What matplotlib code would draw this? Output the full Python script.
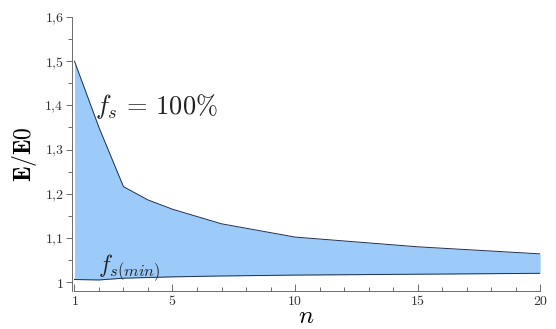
import matplotlib.pyplot as plt
from matplotlib.ticker import MultipleLocator, FuncFormatter

plt.rcParams['mathtext.fontset'] = 'cm'
plt.rcParams['font.family'] = 'serif'
plt.rcParams['font.serif'] = ['DejaVu Serif']

# upper curve: f_s = 100%
n_upper = [1, 2, 3, 4, 5, 7, 10, 15, 20]
e_upper = [1.5, 1.35, 1.216, 1.186, 1.165, 1.132, 1.102, 1.08, 1.064]
# lower curve: f_s(min), read at the same n values
e_lower = [1.006, 1.005, 1.009, 1.0105, 1.012, 1.014, 1.016, 1.018, 1.02]

fig = plt.figure(figsize=(5.56, 3.29), dpi=100)
ax = fig.add_axes([0.1295, 0.1155, 0.842, 0.833])

ax.fill_between(n_upper, e_upper, e_lower, color='#9ccbf9', lw=0)
ax.plot(n_upper, e_upper, color='#1f2f4f', lw=0.7)
ax.plot(n_upper, e_lower, color='#1f2f4f', lw=0.7)

ax.set_xlim(0.9, 20)
ax.set_ylim(0.98, 1.6)
for s in ['top', 'right']:
    ax.spines[s].set_visible(False)
ax.spines['left'].set_bounds(0.98, 1.6)
ax.spines['bottom'].set_bounds(1, 20)
for s in ['left', 'bottom']:
    ax.spines[s].set_linewidth(0.6)
    ax.spines[s].set_color('#555555')

ax.set_xticks([1, 5, 10, 15, 20])
ax.xaxis.set_minor_locator(MultipleLocator(1))
ax.yaxis.set_major_locator(MultipleLocator(0.1))
ax.yaxis.set_minor_locator(MultipleLocator(0.05))


def yfmt(v, pos):
    s = '%.1f' % v
    if s == '1.0':
        return '$1$'
    return '$' + s.replace('.', '{,}') + '$'


ax.yaxis.set_major_formatter(FuncFormatter(yfmt))
ax.xaxis.set_major_formatter(FuncFormatter(lambda v, p: '$%d$' % v))
ax.tick_params(axis='x', which='both', direction='in', colors='#555555', labelcolor='#333333',
               labelsize=10, pad=2)
ax.tick_params(axis='x', which='major', length=5, width=0.6)
ax.tick_params(axis='x', which='minor', length=3, width=0.6)
ax.tick_params(axis='y', which='both', direction='out', colors='#555555', labelcolor='#333333',
               labelsize=10, pad=2)
ax.tick_params(axis='y', which='major', length=4, width=0.6)
ax.tick_params(axis='y', which='minor', length=3, width=0.6)

ax.set_ylabel(r'$\mathbf{E/E0}$', fontsize=17, labelpad=4)
ax.set_xlabel(r'$n$', fontsize=18, labelpad=-2)

ax.text(1.85, 1.38, r'$f_s\, =\, 100\%$', fontsize=19, color='#222222')
ax.text(1.95, 1.022, r'$f_{s(min)}$', fontsize=17, color='#222222')

fig.savefig('out.png', dpi=100)
